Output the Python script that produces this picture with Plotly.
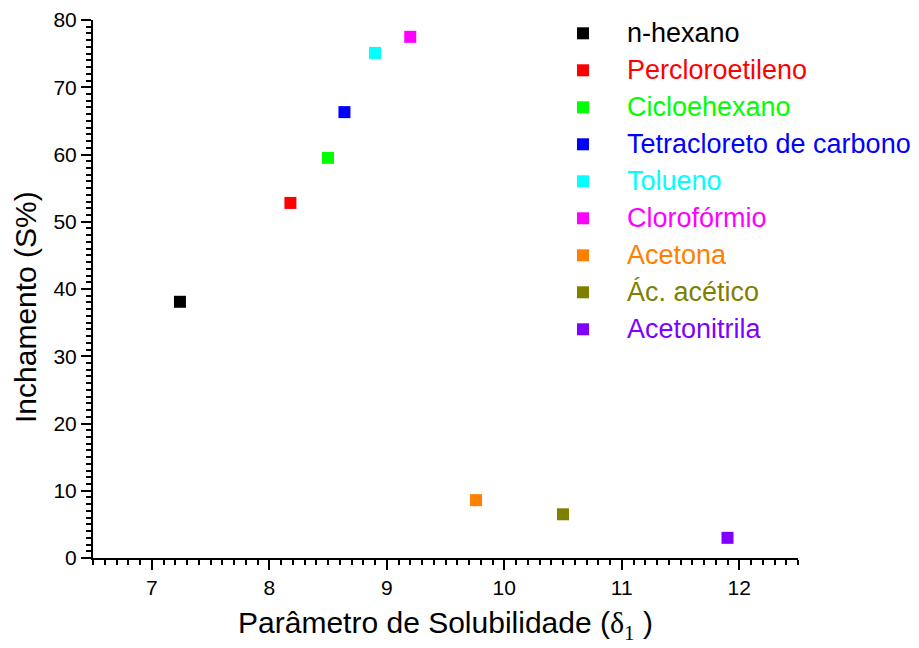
import plotly.graph_objects as go

# Solvent swelling data
solventes = ["n-hexano", "Percloroetileno", "Cicloehexano", "Tetracloreto de carbono",
             "Tolueno", "Clorofórmio", "Acetona", "Ác. acético", "Acetonitrila"]
delta = [7.24, 8.18, 8.50, 8.64, 8.90, 9.20, 9.76, 10.50, 11.90]
inchamento = [38.1, 52.8, 59.5, 66.3, 75.1, 77.5, 8.6, 6.5, 3.0]
cores = ["#000000", "#FF0000", "#00FF00", "#0000FF", "#00FFFF",
         "#FF00FF", "#FF8000", "#808000", "#8000FF"]

FONT = "Liberation Sans, Arial, sans-serif"

fig = go.Figure()
for nome, x, y, c in zip(solventes, delta, inchamento, cores):
    fig.add_trace(go.Scatter(
        x=[x], y=[y], mode="markers", name=nome,
        marker=dict(symbol="square", size=12, color=c, line=dict(width=0)),
        showlegend=False,
    ))

# Legend drawn as squares + coloured labels in paper coordinates
W, H = 919, 648
L, R, T, B = 93, 121, 20, 90
pw, ph = W - L - R, H - T - B
def px(xp):
    return (xp - L) / pw
def py(yp):
    return 1 - (yp - T) / ph

shapes = []
annotations = []
for i, (nome, c) in enumerate(zip(solventes, cores)):
    yc = 33.3 + 37 * i
    shapes.append(dict(type="rect", xref="paper", yref="paper",
                       x0=px(583 - 6), x1=px(583 + 6), y0=py(yc + 6), y1=py(yc - 6),
                       fillcolor=c, line=dict(width=0)))
    annotations.append(dict(text=nome, xref="paper", yref="paper",
                            x=px(625), y=py(yc), xanchor="left", yanchor="middle",
                            showarrow=False, font=dict(family=FONT, size=27, color=c)))

# y-axis title, placed as a rotated annotation
annotations.append(dict(text="Inchamento (S%)", xref="paper", yref="paper",
                        x=px(25), y=py(307), xanchor="center", yanchor="middle",
                        textangle=-90, showarrow=False,
                        font=dict(family=FONT, size=30, color="black")))

axis_common = dict(
    showgrid=False, zeroline=False, showline=True, linecolor="black", linewidth=2,
    ticks="outside", ticklen=10, tickwidth=2, tickcolor="black",
    tickfont=dict(family=FONT, size=21, color="black"),
    mirror=False,
)

fig.update_layout(
    width=W, height=H,
    margin=dict(l=L, r=R, t=T, b=B, autoexpand=False),
    plot_bgcolor="white", paper_bgcolor="white",
    shapes=shapes, annotations=annotations,
    xaxis=dict(
        range=[6.5, 12.5], dtick=1, tick0=7,
        minor=dict(dtick=0.1, tick0=6.5, ticks="outside", ticklen=5, tickwidth=1.5, tickcolor="black"),
        title=dict(text="Parâmetro de Solubilidade (<span style='font-family:Liberation Serif'>δ<sub>1</sub></span> )",
                   font=dict(family=FONT, size=30, color="black"), standoff=14),
        **axis_common,
    ),
    yaxis=dict(
        range=[0, 80], dtick=10, tick0=0,
        minor=dict(dtick=1, tick0=0, ticks="outside", ticklen=5, tickwidth=1.5, tickcolor="black"),
        **axis_common,
    ),
)

fig.write_html("out.html")
